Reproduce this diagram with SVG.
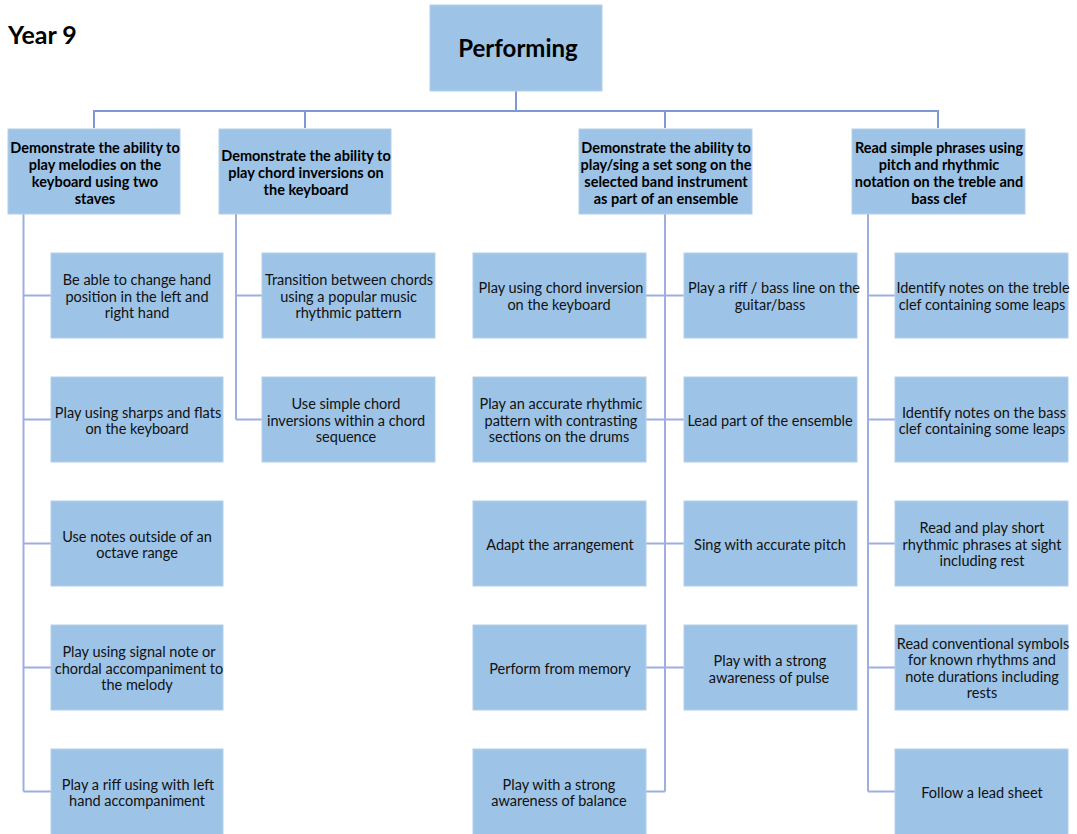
<svg xmlns="http://www.w3.org/2000/svg" width="1077" height="834" viewBox="0 0 1077 834">
  <style>
    .box { fill: #9DC3E6; stroke: #B3D0EC; stroke-width: 1; }
    .t { font-family: Lato, "Open Sans", "Liberation Sans", sans-serif; font-size: 14.5px; fill: #111; text-anchor: middle; dominant-baseline: central; }
    .h { font-family: Lato, "Open Sans", "Liberation Sans", sans-serif; font-size: 14.5px; font-weight: bold; fill: #000; text-anchor: middle; dominant-baseline: central; }
    .title { font-family: Lato, "Open Sans", "Liberation Sans", sans-serif; font-weight: bold; fill: #000; }
    .trunk { fill: none; stroke: #7E98D6; stroke-width: 2; }
    .branch { fill: none; stroke: #9FAEDF; stroke-width: 2; }
  </style>

  <text class="title" x="8" y="44" font-size="25">Year 9</text>

  <!-- connectors -->
  <g id="connectors">
    <path class="trunk" d="M516 91 V111 M94 128 V111 H938 V128 M305 111 V128 M665 111 V128"/>
    <path class="branch" d="M23.5 214 V791.5 M23.5 295.5 H51 M23.5 419.5 H51 M23.5 543.5 H51 M23.5 667.5 H51 M23.5 791.5 H51"/>
    <path class="branch" d="M236 214 V419.5 M236 295.5 H262 M236 419.5 H262"/>
    <path class="branch" d="M665 214 V791.5 M646 295.5 H684 M646 419.5 H684 M646 543.5 H684 M646 667.5 H684 M646 791.5 H665"/>
    <path class="branch" d="M868 214 V791.5 M868 295.5 H895 M868 419.5 H895 M868 543.5 H895 M868 667.5 H895 M868 791.5 H895"/>
  </g>

  <!-- root -->
  <g id="performing">
    <rect class="box" x="430" y="5" width="172" height="86"/>
    <text class="title" x="518" y="47" font-size="24" text-anchor="middle" dominant-baseline="central">Performing</text>
  </g>

  <!-- level 1 -->
  <g id="h-melodies">
    <rect class="box" x="8" y="129" width="172" height="85"/>
    <text class="h"><tspan x="95" y="147">Demonstrate the ability to</tspan><tspan x="95" y="164">play melodies on the</tspan><tspan x="95" y="181">keyboard using two</tspan><tspan x="95" y="198">staves</tspan></text>
  </g>
  <g id="h-chords">
    <rect class="box" x="219" y="129" width="172" height="85"/>
    <text class="h"><tspan x="306" y="155">Demonstrate the ability to</tspan><tspan x="306" y="172">play chord inversions on</tspan><tspan x="306" y="189">the keyboard</tspan></text>
  </g>
  <g id="h-ensemble">
    <rect class="box" x="579" y="129" width="173" height="85"/>
    <text class="h"><tspan x="666" y="147">Demonstrate the ability to</tspan><tspan x="666" y="164">play/sing a set song on the</tspan><tspan x="666" y="181">selected band instrument</tspan><tspan x="666" y="198">as part of an ensemble</tspan></text>
  </g>
  <g id="h-reading">
    <rect class="box" x="852" y="129" width="173" height="85"/>
    <text class="h"><tspan x="939" y="147">Read simple phrases using</tspan><tspan x="939" y="164">pitch and rhythmic</tspan><tspan x="939" y="181">notation on the treble and</tspan><tspan x="939" y="198">bass clef</tspan></text>
  </g>

  <!-- column 1 -->
  <g id="c1-hand-position">
    <rect class="box" x="51" y="253" width="172" height="85"/>
    <text class="t"><tspan x="137" y="279">Be able to change hand</tspan><tspan x="137" y="295.5">position in the left and</tspan><tspan x="137" y="312">right hand</tspan></text>
  </g>
  <g id="c1-sharps-flats">
    <rect class="box" x="51" y="377" width="172" height="85"/>
    <text class="t"><tspan x="138" y="411.5">Play using sharps and flats</tspan><tspan x="137" y="428">on the keyboard</tspan></text>
  </g>
  <g id="c1-octave">
    <rect class="box" x="51" y="501" width="172" height="85"/>
    <text class="t"><tspan x="137" y="535.5">Use notes outside of an</tspan><tspan x="137" y="552">octave range</tspan></text>
  </g>
  <g id="c1-accompaniment">
    <rect class="box" x="51" y="625" width="172" height="85"/>
    <text class="t"><tspan x="139" y="651">Play using signal note or</tspan><tspan x="139" y="667.5">chordal accompaniment to</tspan><tspan x="137" y="684">the melody</tspan></text>
  </g>
  <g id="c1-riff">
    <rect class="box" x="51" y="749" width="172" height="90"/>
    <text class="t"><tspan x="138" y="783.5">Play a riff using with left</tspan><tspan x="137" y="800">hand accompaniment</tspan></text>
  </g>

  <!-- column 2 -->
  <g id="c2-transition">
    <rect class="box" x="262" y="253" width="173" height="85"/>
    <text class="t"><tspan x="349" y="279">Transition between chords</tspan><tspan x="348.5" y="295.5">using a popular music</tspan><tspan x="348.5" y="312">rhythmic pattern</tspan></text>
  </g>
  <g id="c2-inversions">
    <rect class="box" x="262" y="377" width="173" height="85"/>
    <text class="t"><tspan x="346" y="403">Use simple chord</tspan><tspan x="346" y="419.5">inversions within a chord</tspan><tspan x="346" y="436">sequence</tspan></text>
  </g>

  <!-- column 3 -->
  <g id="c3-chord-inversion">
    <rect class="box" x="473" y="253" width="173" height="85"/>
    <text class="t"><tspan x="561" y="287">Play using chord inversion</tspan><tspan x="559" y="303.5">on the keyboard</tspan></text>
  </g>
  <g id="c3-drums">
    <rect class="box" x="473" y="377" width="173" height="85"/>
    <text class="t"><tspan x="561" y="403">Play an accurate rhythmic</tspan><tspan x="561" y="419.5">pattern with contrasting</tspan><tspan x="559" y="436">sections on the drums</tspan></text>
  </g>
  <g id="c3-arrangement">
    <rect class="box" x="473" y="501" width="173" height="85"/>
    <text class="t" x="560" y="544">Adapt the arrangement</text>
  </g>
  <g id="c3-memory">
    <rect class="box" x="473" y="625" width="173" height="85"/>
    <text class="t" x="560" y="668">Perform from memory</text>
  </g>
  <g id="c3-balance">
    <rect class="box" x="473" y="749" width="173" height="90"/>
    <text class="t"><tspan x="559" y="783.5">Play with a strong</tspan><tspan x="559" y="800">awareness of balance</tspan></text>
  </g>

  <!-- column 4 -->
  <g id="c4-riff">
    <rect class="box" x="684" y="253" width="173" height="85"/>
    <text class="t"><tspan x="774" y="287">Play a riff / bass line on the</tspan><tspan x="770" y="303.5">guitar/bass</tspan></text>
  </g>
  <g id="c4-lead">
    <rect class="box" x="684" y="377" width="173" height="85"/>
    <text class="t" x="770" y="420">Lead part of the ensemble</text>
  </g>
  <g id="c4-pitch">
    <rect class="box" x="684" y="501" width="173" height="85"/>
    <text class="t" x="770" y="544">Sing with accurate pitch</text>
  </g>
  <g id="c4-pulse">
    <rect class="box" x="684" y="625" width="173" height="85"/>
    <text class="t"><tspan x="770" y="660">Play with a strong</tspan><tspan x="769" y="676.5">awareness of pulse</tspan></text>
  </g>

  <!-- column 5 -->
  <g id="c5-treble">
    <rect class="box" x="895" y="253" width="173" height="85"/>
    <text class="t"><tspan x="983" y="287">Identify notes on the treble</tspan><tspan x="982" y="303.5">clef containing some leaps</tspan></text>
  </g>
  <g id="c5-bass">
    <rect class="box" x="895" y="377" width="173" height="85"/>
    <text class="t"><tspan x="984" y="411.5">Identify notes on the bass</tspan><tspan x="982" y="428">clef containing some leaps</tspan></text>
  </g>
  <g id="c5-sight">
    <rect class="box" x="895" y="501" width="173" height="85"/>
    <text class="t"><tspan x="982" y="527">Read and play short</tspan><tspan x="982" y="543.5">rhythmic phrases at sight</tspan><tspan x="982" y="560">including rest</tspan></text>
  </g>
  <g id="c5-symbols">
    <rect class="box" x="895" y="625" width="173" height="85"/>
    <text class="t"><tspan x="983" y="642.5">Read conventional symbols</tspan><tspan x="982" y="659">for known rhythms and</tspan><tspan x="982" y="675.5">note durations including</tspan><tspan x="982" y="692">rests</tspan></text>
  </g>
  <g id="c5-lead-sheet">
    <rect class="box" x="895" y="749" width="173" height="90"/>
    <text class="t" x="982" y="792">Follow a lead sheet</text>
  </g>
</svg>
